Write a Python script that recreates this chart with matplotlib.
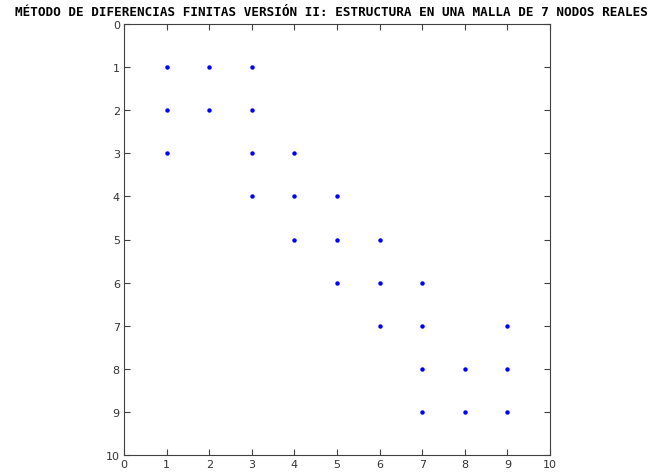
import matplotlib
matplotlib.use("Agg")
import matplotlib.pyplot as plt

# Sparsity pattern of the 9x9 finite-difference matrix (row, column of nonzeros)
rows = [1, 1, 1, 2, 2, 2, 3, 3, 3, 4, 4, 4, 5, 5, 5, 6, 6, 6, 7, 7, 7, 8, 8, 8, 9, 9, 9]
cols = [1, 2, 3, 1, 2, 3, 1, 3, 4, 3, 4, 5, 4, 5, 6, 5, 6, 7, 6, 7, 9, 7, 8, 9, 7, 8, 9]
ticks = list(range(0, 11))
title = "MÉTODO DE DIFERENCIAS FINITAS VERSIÓN II: ESTRUCTURA EN UNA MALLA DE 7 NODOS REALES"

fig = plt.figure(figsize=(6.6, 4.77), dpi=100)
ax = fig.add_axes([124 / 660, 1 - 456 / 477, 426 / 660, 431 / 477])

ax.plot(cols, rows, linestyle="none", marker="o", markersize=3.2,
        color="#0000ff", markeredgewidth=0)

ax.set_xlim(0, 10)
ax.set_ylim(10, 0)
ax.set_xticks(ticks)
ax.set_yticks(ticks)
ax.tick_params(direction="in", length=4, width=0.8, top=True, right=True,
               labelsize=8, colors="#404040", labelcolor="#333333", pad=3)
for s in ax.spines.values():
    s.set_color("#404040")
    s.set_linewidth(0.8)

fig.text(331 / 660, 1 - 12 / 477, title, ha="center", va="center",
         fontsize=9.1, fontweight="bold", family="DejaVu Sans Mono")

fig.savefig("out.png", dpi=100)
